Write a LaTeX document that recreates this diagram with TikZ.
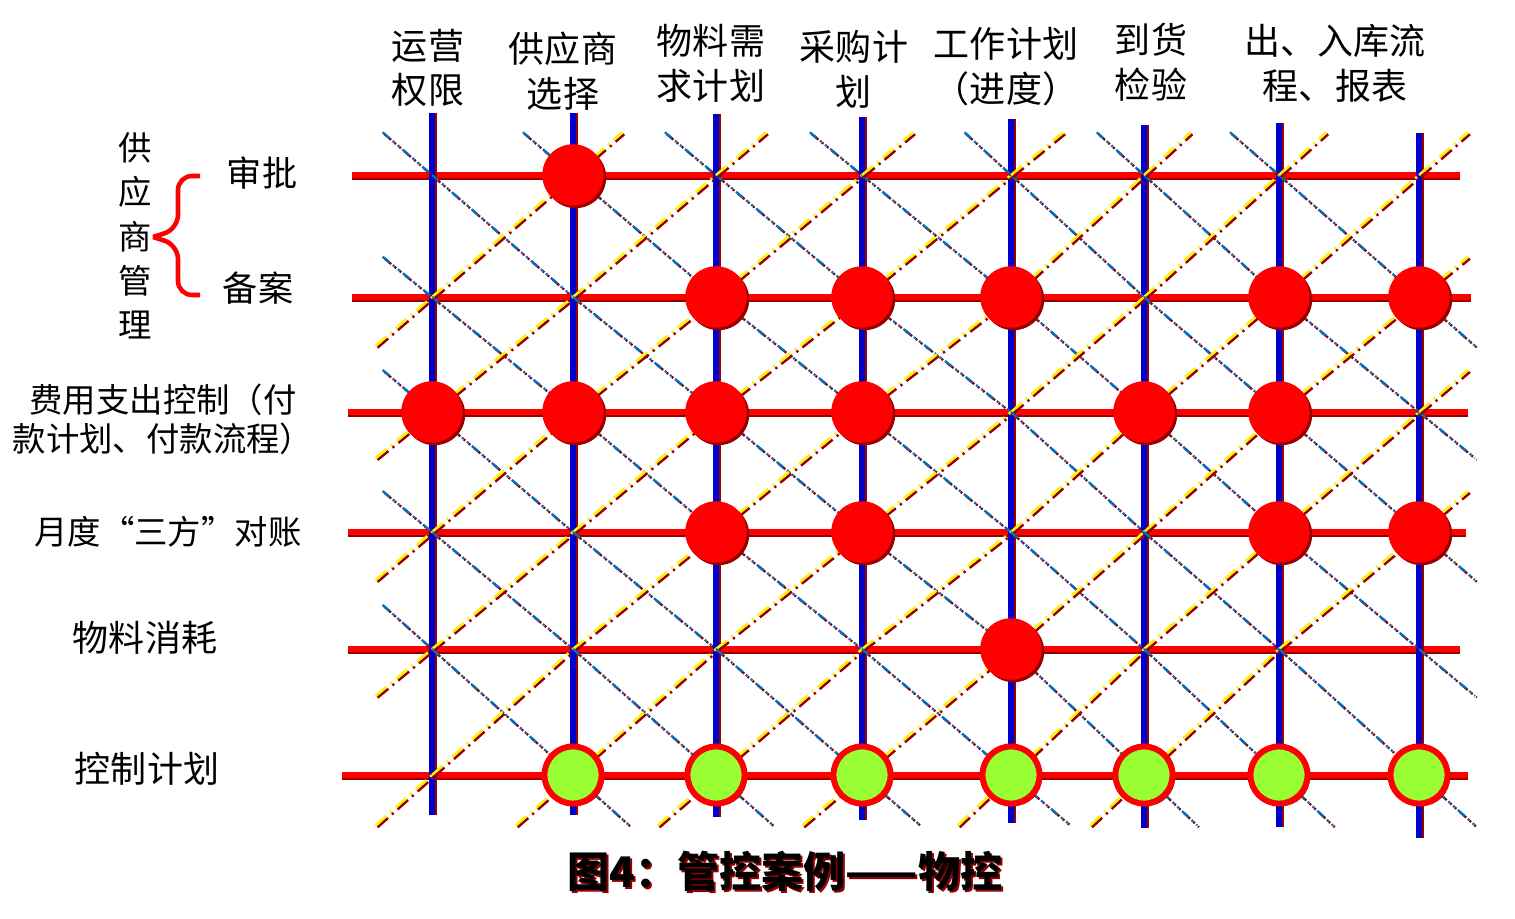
\documentclass[tikz,border=0pt]{standalone}
\usepackage{fontspec}
\newfontfamily\cjk{Noto Sans CJK SC}
\usetikzlibrary{calc,shadows}
\definecolor{gridred}{RGB}{255,0,0}
\definecolor{gridblue}{RGB}{0,0,204}
\definecolor{shade}{RGB}{150,0,0}
\definecolor{diagblue}{RGB}{0,112,192}
\definecolor{lime}{RGB}{153,255,51}

\begin{document}
\begin{tikzpicture}[
    x=0.02cm, y=-0.02cm,
    label/.style={font=\cjk\fontsize{20.5}{25.5}\selectfont, align=center, inner sep=0pt},
    rowlabel/.style={label, font=\cjk\fontsize{19}{22}\selectfont},
    caption/.style={font=\cjk\bfseries\fontsize{24}{28}\selectfont, inner sep=0pt},
    hline/.style={draw=gridred, line width=3.3pt, preaction={draw=shade, line width=3.3pt, transform canvas={yshift=-1.2pt}}},
    vline/.style={draw=gridblue, line width=3.2pt, preaction={draw=shade, line width=3.2pt, transform canvas={xshift=1.4pt}}},
    bdiag/.style={draw=diagblue, line width=1.3pt, dash pattern=on 5pt off 2.5pt on 1.2pt off 2.5pt on 1.2pt off 2.5pt,
      preaction={draw=shade, line width=1.3pt, dash pattern=on 5pt off 2.5pt on 1.2pt off 2.5pt on 1.2pt off 2.5pt, transform canvas={xshift=1pt, yshift=-1pt}}},
    ydiag/.style={draw=yellow, line width=1.4pt, dash pattern=on 8pt off 3pt on 1.3pt off 3pt,
      preaction={draw=shade, line width=1.4pt, dash pattern=on 8pt off 3pt on 1.3pt off 3pt, transform canvas={xshift=1.1pt, yshift=-1.1pt}}},
    hit/.style={circle, fill=gridred, inner sep=0pt, minimum size=35pt,
      drop shadow={shadow xshift=1.4pt, shadow yshift=-1.4pt, fill=shade, opacity=1}},
    plan/.style={circle, fill=lime, draw=gridred, line width=3.4pt, inner sep=0pt, minimum size=32.5pt,
      drop shadow={shadow xshift=1.4pt, shadow yshift=-1.4pt, fill=shade, opacity=1}},
    brace line/.style={draw=gridred, line width=2.6pt, rounded corners=8pt}
  ]
    \useasboundingbox (0,0) rectangle (1515,919);

    \foreach \x [count=\i from 0] in {432,573,716,862,1011,1144,1279,1419}
      \foreach \y [count=\j from 0] in {175,297,412,532,649,775}
        \coordinate (p\i\j) at (\x,\y);

    \foreach \y/\l/\r in {175/352/1460,297/352/1471,412/348/1468,532/348/1466,649/348/1460,775/342/1468}
      \draw[hline] (\l,\y) -- (\r,\y);
    \foreach \x/\t/\b in {432/113/815,573/113/815,716/114/817,862/117/820,1011/119/823,1144/125/828,1279/123/827,1419/133/838}
      \draw[vline] (\x,\t) -- (\x,\b);

    \foreach \i in {0,...,6} {
      \foreach \j in {0,...,4} {
        \pgfmathtruncatemacro\ii{\i+1}
        \pgfmathtruncatemacro\jj{\j+1}
        \draw[bdiag] (p\i\j) -- (p\ii\jj);
        \ifnum\i\j=64 \else \draw[ydiag] (p\i\jj) -- (p\ii\j); \fi
      }
    }
    \foreach \i/\j in {0/0,1/0,2/0,3/0,4/0,5/0,6/0,0/1,0/2,0/3,0/4} {
      \pgfmathtruncatemacro\ii{\i+1}
      \pgfmathtruncatemacro\jj{\j+1}
      \draw[bdiag] ($(p\i\j)!-0.35!(p\ii\jj)$) -- (p\i\j);
    }
    \foreach \i/\j in {1/5,2/5,3/5,4/5,5/5,6/5,7/5,7/1,7/2,7/3,7/4} {
      \pgfmathtruncatemacro\ii{\i-1}
      \pgfmathtruncatemacro\jj{\j-1}
      \draw[bdiag] (p\i\j) -- ($(p\i\j)!-0.4!(p\ii\jj)$);
    }
    \foreach \i/\j in {0/1,0/2,0/3,0/4,0/5,1/5,2/5,3/5,4/5,5/5} {
      \pgfmathtruncatemacro\ii{\i+1}
      \pgfmathtruncatemacro\jj{\j-1}
      \draw[ydiag] ($(p\i\j)!-0.4!(p\ii\jj)$) -- (p\i\j);
    }
    \foreach \i/\j in {1/0,2/0,3/0,4/0,5/0,6/0,7/0,7/1,7/2,7/3} {
      \pgfmathtruncatemacro\ii{\i-1}
      \pgfmathtruncatemacro\jj{\j+1}
      \draw[ydiag] (p\i\j) -- ($(p\i\j)!-0.35!(p\ii\jj)$);
    }

    \foreach \i/\j in {1/0,2/1,3/1,4/1,6/1,7/1,0/2,1/2,2/2,3/2,5/2,6/2,2/3,3/3,6/3,7/3,4/4}
      \node[hit] (h\i\j) at (p\i\j) {};
    \foreach \i in {1,...,7}
      \node[plan] (g\i) at (p\i5) {};

    \node[label] (ops) at (428,68) {运营\\权限};
    \node[label] (sel) at (563,71) {供应商\\选择};
    \node[label] (mrp) at (711,63) {物料需\\求计划};
    \node[label] (buy) at (854,69) {采购计\\划};
    \node[label] (work) at (1006,67) {工作计划\\（进度）};
    \node[label] (chk) at (1151,62) {到货\\检验};
    \node[label] (store) at (1335,63) {出、入库流\\程、报表};

    \node[label, font=\cjk\fontsize{19}{25.2}\selectfont] (sup) at (135,236) {供\\应\\商\\管\\理};
    \node[label, font=\cjk\fontsize{20}{24}\selectfont] (appr) at (262,173) {审批};
    \node[label, font=\cjk\fontsize{20}{24}\selectfont] (file) at (258,288) {备案};
    \draw[brace line] (200,176) -- (178,176) -- (178,229) -- (153,237);
    \draw[brace line] (153,237) -- (178,245) -- (178,295) -- (200,295);

    \node[rowlabel] (cost) at (163,419) {费用支出控制（付\\款计划、付款流程）};
    \node[rowlabel] (recon) at (168,532) {月度“三方”对账};
    \node[label] (use) at (145,638) {物料消耗};
    \node[label] (plan) at (147,769) {控制计划};

    \node[caption, text=shade] at (787,873) {图4：管控案例——物控};
    \node[caption] (figcap) at (785,871) {图4：管控案例——物控};
  \end{tikzpicture}
\end{document}
